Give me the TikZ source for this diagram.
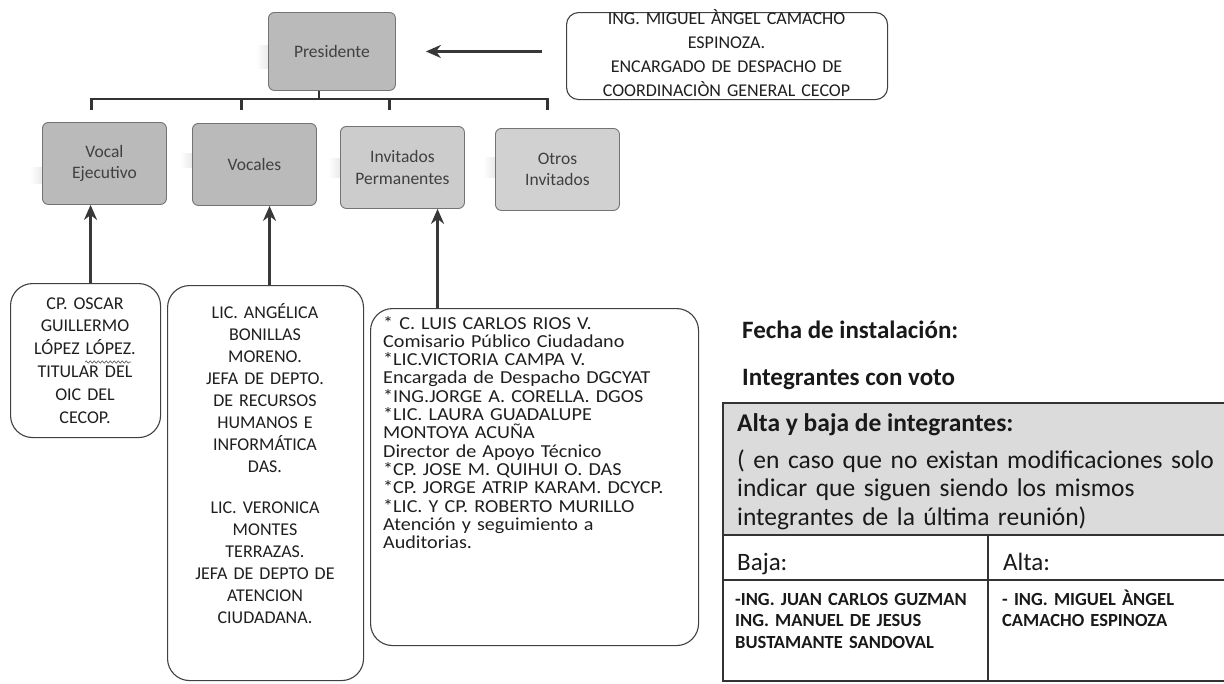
\documentclass[tikz,border=0pt]{standalone}
\usepackage{fontspec}
\setmainfont{Carlito}
\newfontfamily\widecal[FakeStretch=1.1]{Carlito}
\usetikzlibrary{arrows.meta,decorations.pathmorphing}
\begin{document}
\begin{tikzpicture}[x=1pt,y=-1pt,
 orgbox/.style={draw=black!55,line width=0.9pt,rounded corners=6pt,inner sep=0pt,minimum width=124pt,minimum height=82pt,anchor=north west,text=black!75,align=center,font=\fontsize{17.5}{21.5}\selectfont},
 pbox/.style={draw=black!75,line width=1.1pt,rounded corners=22pt,fill=white,inner sep=0pt,anchor=north west},
 ptext/.style={inner sep=0pt,anchor=base,align=center,text width=190pt,font=\fontsize{18}{22.8}\selectfont,text=black!88},
 conn/.style={draw=black!80,line width=2.2pt,line join=miter},
 arr/.style={draw=black!78,line width=3pt,-{Stealth[length=15pt,width=13pt]}},
 smear/.style={left color=white,right color=black!8},
 tline/.style={draw=black!80,line width=1.4pt},
 ttext/.style={anchor=base west,inner sep=0pt,text=black!90},
 ]
\useasboundingbox (0,0) rectangle (1224,683);

% --- org chart boxes
\shade[smear] (256,45) rectangle (268,68);
\node[orgbox,fill=black!27,minimum width=127pt,minimum height=78pt] (pres) at (268,12) {Presidente};
\shade[smear] (30,167) rectangle (42,183);
\node[orgbox,fill=black!27] (ve) at (42,122) {Vocal\\Ejecutivo};
\shade[smear] (180,153) rectangle (192,167);
\node[orgbox,fill=black!27] (voc) at (192,123) {Vocales};
\shade[smear] (328,158) rectangle (340,177);
\node[orgbox,fill=black!20] (inv) at (340,126) {Invitados\\Permanentes};
\shade[smear] (483,157) rectangle (495,177);
\node[orgbox,fill=black!18] (otr) at (495,128) {Otros\\Invitados};

% --- bus connectors
\coordinate (busy) at (0,99);
\coordinate (busb) at (0,110);
\coordinate (st) at ([xshift=-13pt]pres.south);
\coordinate (d1) at ([xshift=-13pt]ve.north);
\coordinate (d2) at ([xshift=-13pt]voc.north);
\coordinate (d3) at ([xshift=-13pt]inv.north);
\coordinate (d4) at ([xshift=-10pt]otr.north);
\draw[conn] (st) -- (st |- busy);
\draw[conn] (d1 |- busb) -- (d1 |- busy) -- (d4 |- busy) -- (d4 |- busb);
\draw[conn] (d2 |- busy) -- (d2 |- busb);
\draw[conn] (d3 |- busy) -- (d3 |- busb);

% --- Miguel box
\node[pbox,rounded corners=12pt,minimum width=321pt,minimum height=87pt] (mig) at (566,12) {};
\node[ptext,font=\fontsize{18}{24}\selectfont,text width=320pt] (migt) at (726.5,24) {ING. MIGUEL ÀNGEL CAMACHO\\ESPINOZA.\\ENCARGADO DE DESPACHO DE\\COORDINACIÒN GENERAL CECOP};
\coordinate (hat) at ([xshift=-24pt]mig.west);
\draw[arr] (hat |- pres.east) -- ([xshift=30pt]pres.east);

% --- person boxes
\node[pbox,minimum width=150pt,minimum height=154pt] (p1) at (10,283) {};
\node[ptext] (p1t) at (85,309) {CP. OSCAR\\GUILLERMO\\LÓPEZ LÓPEZ.\\TITULAR DEL\\OIC DEL\\CECOP.};
\draw[black!60,line width=0.7pt,decorate,decoration={snake,amplitude=1.1pt,segment length=4pt}] (85,362) -- (131,362);

\node[pbox,minimum width=196pt,minimum height=395pt] (p2) at (167,285) {};
\node[ptext,font=\fontsize{18}{22}\selectfont] (p2t) at (265,318) {LIC. ANGÉLICA\\BONILLAS\\MORENO.\\JEFA DE DEPTO.\\DE RECURSOS\\HUMANOS E\\INFORMÁTICA\\DAS.\\[19pt]LIC. VERONICA\\MONTES\\TERRAZAS.\\JEFA DE DEPTO DE\\ATENCION\\CIUDADANA.};

\node[pbox,minimum width=328pt,minimum height=337pt] (p3) at (370,308) {};
\node[ptext,anchor=base west,align=left,text width=310pt,font=\widecal\fontsize{18.3}{18.3}\selectfont] (p3t) at (383,329) {{*} C. LUIS CARLOS RIOS V.\\{}Comisario Público Ciudadano\\{*}LIC.VICTORIA CAMPA V.\\{}Encargada de Despacho DGCYAT\\{*}ING.JORGE A. CORELLA. DGOS\\{*}LIC. LAURA GUADALUPE\\{}MONTOYA ACUÑA\\{}Director de Apoyo Técnico\\{*}CP. JOSE M. QUIHUI O. DAS\\{*}CP. JORGE ATRIP KARAM. DCYCP.\\{*}LIC. Y CP. ROBERTO MURILLO\\{}Atención y seguimiento a\\{}Auditorias.};

% --- up arrows
\coordinate (a1) at ([xshift=5pt]p1.north);
\draw[arr] (a1) -- (a1 |- ve.south);
\coordinate (a2) at ([xshift=4pt]p2.north);
\draw[arr] (a2) -- (a2 |- voc.south);
\coordinate (a3) at ([xshift=-97pt]p3.north);
\draw[arr] (a3) -- (a3 |- inv.south);

% --- right side
\node[ttext,font=\bfseries\fontsize{25}{30}\selectfont] (fecha) at (742,338) {Fecha de instalación:};
\node[ttext,font=\bfseries\fontsize{25}{30}\selectfont] (integ) at (742,385) {Integrantes con voto};

\fill[black!14] (723,403) rectangle (1230,535);
\draw[tline] (1230,403) -- (723,403) -- (723,681) -- (1230,681);
\draw[tline] (723,535) -- (1230,535);
\draw[tline] (723,580) -- (1230,580);
\draw[tline] (988,535) -- (988,681);

\node[ttext,font=\bfseries\fontsize{25.5}{30}\selectfont] (altab) at (737,431) {Alta y baja de integrantes:};
\node[ttext,align=left,text width=480pt,font=\fontsize{25.5}{28.7}\selectfont] (nota) at (737,468) {( en caso que no existan modificaciones solo\\indicar que siguen siendo los mismos\\integrantes de la última reunión)};
\node[ttext,font=\fontsize{25}{30}\selectfont] (baja) at (737,570) {Baja:};
\node[ttext,font=\fontsize{25}{30}\selectfont] (alta) at (1003,570) {Alta:};
\node[ttext,align=left,text width=250pt,font=\bfseries\fontsize{18.5}{21.5}\selectfont] (bajat) at (735,605) {-ING. JUAN CARLOS GUZMAN\\ING. MANUEL DE JESUS\\BUSTAMANTE SANDOVAL};
\node[ttext,align=left,text width=220pt,font=\bfseries\fontsize{18.5}{21.5}\selectfont] (altat) at (1002,605) {- ING. MIGUEL ÀNGEL\\CAMACHO ESPINOZA};
\end{tikzpicture}
\end{document}
